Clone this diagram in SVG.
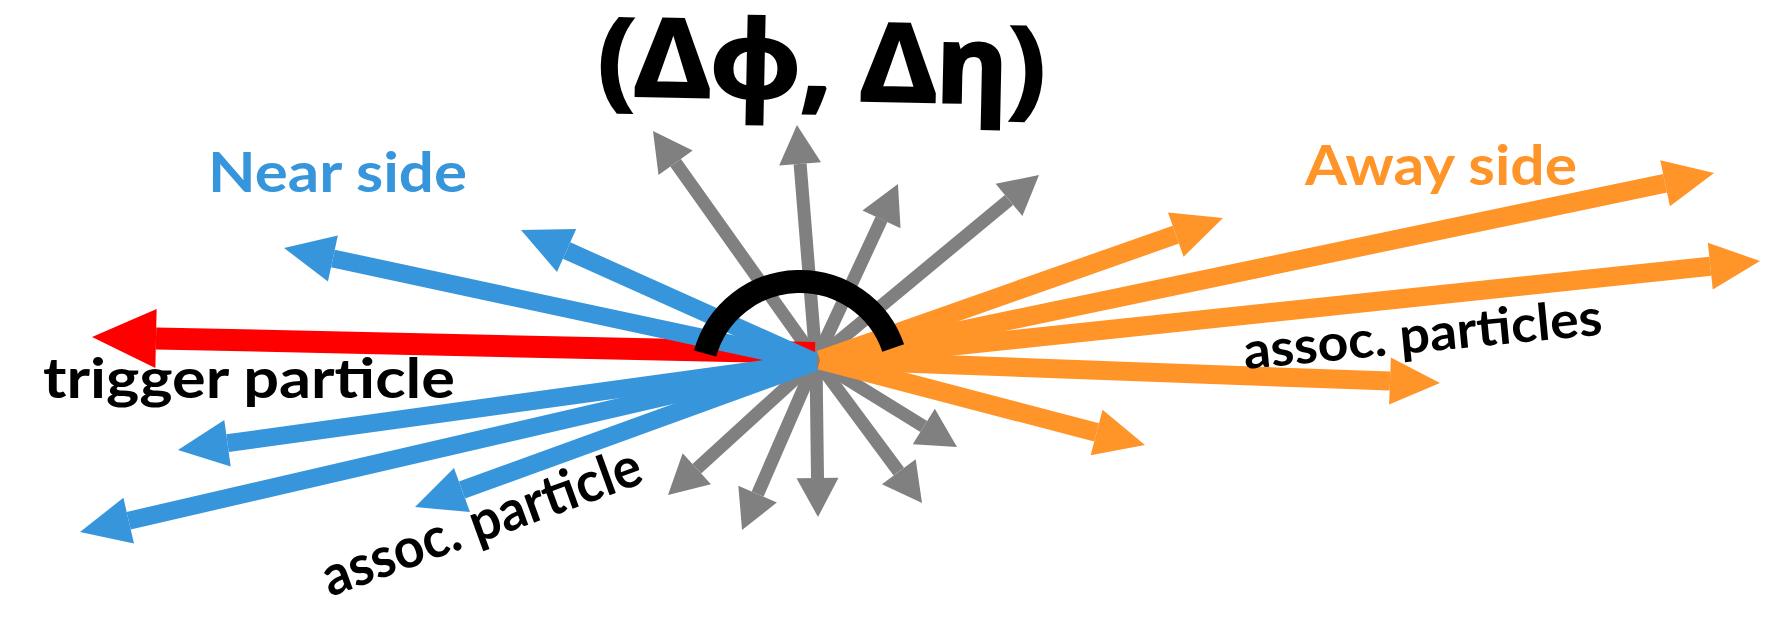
<svg xmlns="http://www.w3.org/2000/svg" width="1770" height="621" viewBox="0 0 1770 621">
  <style>
    .g { stroke: #808080; stroke-width: 13; fill: none; marker-end: url(#hg); }
    .b { stroke: #3796DB; stroke-width: 18; fill: none; marker-end: url(#hb); }
    .o { stroke: #FF9429; stroke-width: 19; fill: none; marker-end: url(#ho); }
    .r { stroke: #FF0000; stroke-width: 22; fill: none; marker-end: url(#hr); }
    .lbl { font-family: Lato, "Open Sans", "Liberation Sans", sans-serif; font-weight: bold; }
    .title { font-family: "Noto Sans", "DejaVu Sans", sans-serif; font-weight: bold; font-size: 108px; fill: #000; stroke: #000; stroke-width: 2.5; }
  </style>
  <defs>
    <marker id="hg" markerUnits="userSpaceOnUse" markerWidth="40" markerHeight="43" refX="0" refY="21" orient="auto" overflow="visible">
      <path d="M0,0 L39,21 L0,42 z" fill="#808080"/>
    </marker>
    <marker id="hb" markerUnits="userSpaceOnUse" markerWidth="51" markerHeight="48" refX="0" refY="23.5" orient="auto" overflow="visible">
      <path d="M0,0 L50,23.5 L0,47 z" fill="#3796DB"/>
    </marker>
    <marker id="ho" markerUnits="userSpaceOnUse" markerWidth="51" markerHeight="48" refX="0" refY="23.5" orient="auto" overflow="visible">
      <path d="M0,0 L50,23.5 L0,47 z" fill="#FF9429"/>
    </marker>
    <marker id="hr" markerUnits="userSpaceOnUse" markerWidth="65" markerHeight="60" refX="0" refY="29.5" orient="auto" overflow="visible">
      <path d="M0,0 L64,29.5 L0,59 z" fill="#FF0000"/>
    </marker>
  </defs>
  <rect width="1770" height="621" fill="#FFFFFF"/>

  <g id="connectors">
    <g id="gray-arrows">
      <line class="g" x1="816" y1="360" x2="675.6" y2="162.8"/>
      <line class="g" x1="816" y1="360" x2="800.1" y2="163.9"/>
      <line class="g" x1="816" y1="360" x2="881.5" y2="219.3"/>
      <line class="g" x1="816" y1="360" x2="1009" y2="199.9"/>
      <line class="g" x1="816" y1="360" x2="696.8" y2="468.7"/>
      <line class="g" x1="816" y1="360" x2="757.6" y2="494.2"/>
      <line class="g" x1="816" y1="360" x2="817.5" y2="478"/>
      <line class="g" x1="816" y1="360" x2="898.8" y2="471.7"/>
      <line class="g" x1="816" y1="360" x2="923.8" y2="426.5"/>
    </g>
    <g id="trigger-arrow">
      <line class="r" x1="815" y1="353" x2="156" y2="338.4"/>
    </g>
    <g id="near-side-arrows">
      <line class="b" x1="815" y1="362" x2="332.9" y2="258.5"/>
      <line class="b" x1="815" y1="362" x2="566.6" y2="250.5"/>
      <line class="b" x1="815" y1="362" x2="227.5" y2="443.2"/>
      <line class="b" x1="815" y1="362" x2="128.7" y2="520.7"/>
      <line class="b" x1="815" y1="362" x2="462" y2="490"/>
    </g>
    <g id="away-side-arrows">
      <line class="o" x1="820" y1="360" x2="1175.8" y2="234.6"/>
      <line class="o" x1="820" y1="360" x2="1665.1" y2="183.2"/>
      <line class="o" x1="820" y1="360" x2="1710.3" y2="266.2"/>
      <line class="o" x1="820" y1="360" x2="1390" y2="381.1"/>
      <line class="o" x1="820" y1="360" x2="1096.6" y2="432.4"/>
    </g>
  </g>

  <g id="angle-arc">
    <path d="M705.1,353.5 A98.5,98.5 0 0 1 893.2,348" fill="none" stroke="#000000" stroke-width="23"/>
  </g>

  <g id="title">
    <text class="title" transform="translate(597,95) rotate(1.2)" x="0" y="0" textLength="448" lengthAdjust="spacingAndGlyphs">(Δϕ, Δη)</text>
  </g>
  <g id="near-side-label">
    <text class="lbl" x="208" y="192" font-size="55" fill="#3796DB" textLength="259" lengthAdjust="spacingAndGlyphs">Near side</text>
  </g>
  <g id="away-side-label">
    <text class="lbl" x="1305" y="185" font-size="56" fill="#FF9429" textLength="272" lengthAdjust="spacingAndGlyphs">Away side</text>
  </g>
  <g id="trigger-label">
    <text class="lbl" x="43" y="398" font-size="56" fill="#000000" textLength="412" lengthAdjust="spacingAndGlyphs">trigger particle</text>
  </g>
  <g id="assoc-particle-label">
    <text class="lbl" transform="translate(330,597) rotate(-20)" x="0" y="0" font-size="56" fill="#000000" textLength="336" lengthAdjust="spacingAndGlyphs">assoc. particle</text>
  </g>
  <g id="assoc-particles-label">
    <text class="lbl" transform="translate(1245,369) rotate(-5.5)" x="0" y="0" font-size="51" fill="#000000" textLength="360" lengthAdjust="spacingAndGlyphs">assoc. particles</text>
  </g>
</svg>
